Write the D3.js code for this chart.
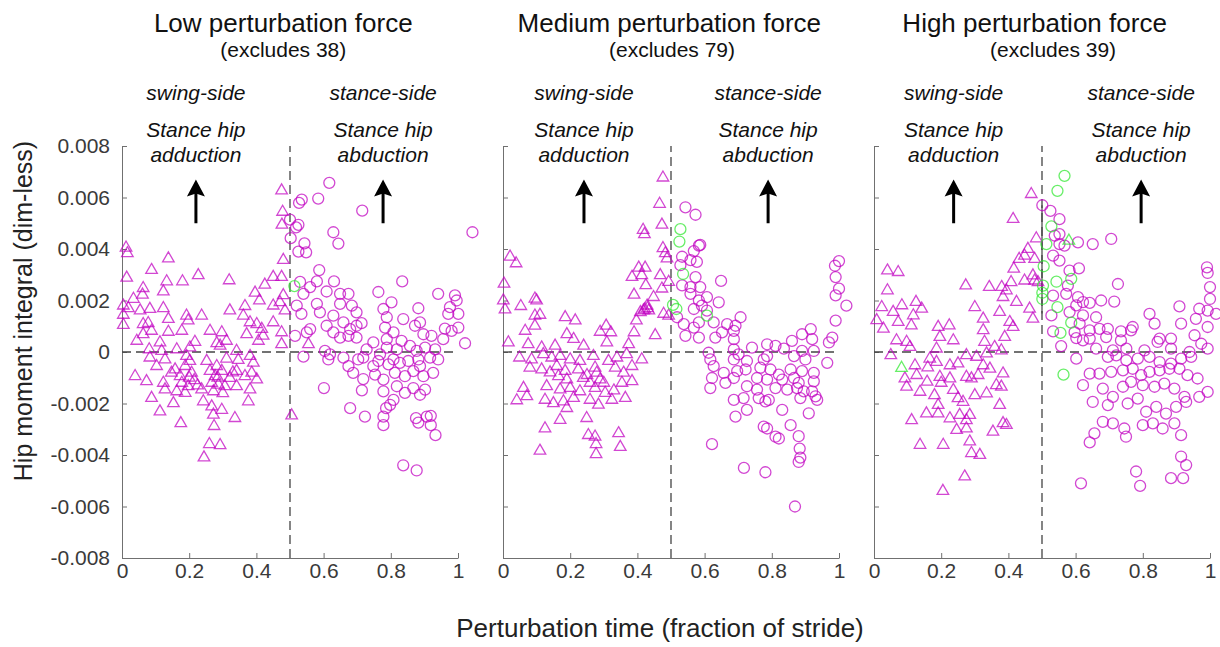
<!DOCTYPE html>
<html>
<head>
<meta charset="utf-8">
<script src="https://cdnjs.cloudflare.com/ajax/libs/d3/7.8.5/d3.min.js"></script>
<style>
  body { margin: 0; background: #fff; }
  text { font-family: "Liberation Sans", Arial, sans-serif; }
</style>
</head>
<body>
<script>
// ---- data (x = fraction of stride, y = hip moment integral) ----
const panelTitles = ["Low perturbation force", "Medium perturbation force", "High perturbation force"];
const excludes = ["(excludes 38)", "(excludes 79)", "(excludes 39)"];
const xTicks = [0, 0.2, 0.4, 0.6, 0.8, 1];
const yTicks = [-0.008, -0.006, -0.004, -0.002, 0, 0.002, 0.004, 0.006, 0.008];

// swing-side (triangles)
const lowTri = [[0.475,0.00627],[0.478,0.00544],[0.476,0.00494],[0.012,0.00405],[0.016,0.00383],[0.138,0.00363],[0.48,0.00357],[0.088,0.00318],[0.227,0.00298],[0.014,0.00288],[0.133,0.00274],[0.18,0.00274],[0.319,0.00278],[0.063,0.00248],[0.123,0.00235],[0.45,0.00291],[0.425,0.00261],[0.475,0.00291],[0.034,0.00206],[0.061,0.00222],[0.396,0.0023],[0.409,0.002],[0.004,0.0018],[0.019,0.0017],[0.054,0.00161],[0.083,0.00167],[0.123,0.0017],[0.004,0.00144],[0.138,0.00128],[0.192,0.00141],[0.237,0.00141],[0.321,0.00161],[0.366,0.00178],[0.361,0.00141],[0.381,0.00115],[0.45,0.0018],[0.47,0.00193],[0.48,0.0022],[0.485,0.00161],[0.004,0.00105],[0.063,0.00108],[0.078,0.00112],[0.197,0.00122],[0.416,0.00089],[0.401,0.00108],[0.45,0.00115],[0.063,0.00069],[0.088,0.00082],[0.138,0.00078],[0.178,0.00082],[0.262,0.00082],[0.297,0.00076],[0.371,0.00069],[0.42,0.00063],[0.475,0.00076],[0.044,0.00043],[0.113,0.00037],[0.217,0.00039],[0.282,0.00034],[0.311,0.00043],[0.406,0.00043],[0.475,0.0003],[0.081,0.0001],[0.118,0.00004],[0.163,0.0001],[0.202,0.00017],[0.292,0.00024],[0.341,0.00004],[0.083,-0.00022],[0.128,-0.00029],[0.192,-0.00016],[0.252,-0.00035],[0.311,-0.00026],[0.346,-0.00031],[0.381,-0.00016],[0.391,-0.00042],[0.103,-0.00055],[0.158,-0.00068],[0.188,-0.00055],[0.202,-0.00035],[0.282,-0.00055],[0.297,-0.00074],[0.039,-0.00094],[0.147,-0.00081],[0.173,-0.00094],[0.207,-0.00081],[0.262,-0.00074],[0.277,-0.00094],[0.321,-0.00101],[0.341,-0.00074],[0.366,-0.00094],[0.386,-0.00081],[0.401,-0.00107],[0.073,-0.00114],[0.123,-0.0012],[0.178,-0.0012],[0.197,-0.00133],[0.267,-0.0012],[0.287,-0.00127],[0.306,-0.00133],[0.341,-0.00133],[0.128,-0.00146],[0.163,-0.00153],[0.188,-0.00159],[0.237,-0.00146],[0.272,-0.00153],[0.381,-0.00146],[0.088,-0.00179],[0.153,-0.00199],[0.242,-0.00192],[0.267,-0.00212],[0.297,-0.00225],[0.376,-0.00192],[0.113,-0.00231],[0.272,-0.00244],[0.336,-0.00257],[0.175,-0.00277],[0.274,-0.00288],[0.505,-0.00247],[0.26,-0.00358],[0.292,-0.00362],[0.244,-0.0041],[0.555,0.0003],[0.2,-0.001],[0.215,-0.0011],[0.285,-0.001],[0.3,-0.0016],[0.33,-0.0008],[0.225,-0.0013]];
const medTri = [[0.476,0.00677],[0.466,0.00575],[0.473,0.00494],[0.417,0.00474],[0.421,0.00457],[0.476,0.00403],[0.483,0.00383],[0.021,0.0037],[0.039,0.00344],[0.488,0.00363],[0.404,0.00327],[0.423,0.00327],[0.384,0.00291],[0.413,0.00298],[0.468,0.00298],[0.003,0.00265],[0.493,0.00272],[0.425,0.00259],[0.473,0.00246],[0.39,0.00222],[0.001,0.002],[0.095,0.00207],[0.1,0.002],[0.448,0.00213],[0.053,0.00178],[0.006,0.00165],[0.429,0.0018],[0.434,0.00161],[0.418,0.00161],[0.409,0.00154],[0.095,0.00141],[0.11,0.00144],[0.185,0.00135],[0.215,0.00122],[0.397,0.00122],[0.478,0.00148],[0.493,0.00141],[0.066,0.00082],[0.095,0.00102],[0.19,0.00069],[0.21,0.0005],[0.307,0.00102],[0.321,0.00076],[0.289,0.00078],[0.39,0.00076],[0.453,0.00065],[0.016,0.00037],[0.075,0.0003],[0.115,0.00017],[0.155,0.00024],[0.24,0.00024],[0.309,0.00037],[0.374,0.0003],[0.049,-0.00022],[0.085,-0.00029],[0.12,-0.00009],[0.145,-0.00022],[0.17,-0.00016],[0.2,-0.00029],[0.229,-0.00035],[0.269,-0.00016],[0.314,-0.00035],[0.339,-0.00022],[0.368,-0.00009],[0.413,-0.00029],[0.08,-0.00061],[0.115,-0.00068],[0.16,-0.00055],[0.185,-0.00074],[0.224,-0.00068],[0.274,-0.00061],[0.279,-0.00081],[0.334,-0.00061],[0.359,-0.00081],[0.384,-0.00055],[0.165,-0.00094],[0.19,-0.00107],[0.239,-0.00101],[0.259,-0.0012],[0.289,-0.00107],[0.354,-0.0012],[0.384,-0.00114],[0.061,-0.0014],[0.13,-0.00133],[0.17,-0.00146],[0.2,-0.0014],[0.229,-0.00153],[0.274,-0.0014],[0.304,-0.00159],[0.071,-0.00172],[0.041,-0.00188],[0.125,-0.00186],[0.15,-0.00199],[0.18,-0.00192],[0.19,-0.00218],[0.21,-0.00179],[0.259,-0.00186],[0.284,-0.00205],[0.324,-0.00186],[0.364,-0.00179],[0.17,-0.00264],[0.249,-0.00257],[0.125,-0.00297],[0.254,-0.00323],[0.274,-0.00329],[0.344,-0.00316],[0.277,-0.00358],[0.349,-0.00369],[0.11,-0.00384],[0.277,-0.00397],[0.422,0.00165],[0.43,0.0017],[0.14,-0.0008],[0.25,-0.0009],[0.3,-0.0012],[0.33,-0.0015]];
const highTri = [[0.468,0.00613],[0.414,0.00516],[0.483,0.00441],[0.458,0.004],[0.432,0.00361],[0.448,0.00374],[0.478,0.00361],[0.04,0.00316],[0.072,0.0031],[0.416,0.00323],[0.473,0.00297],[0.478,0.00277],[0.488,0.00271],[0.04,0.00239],[0.273,0.00258],[0.343,0.00252],[0.38,0.00252],[0.394,0.00239],[0.408,0.00271],[0.448,0.00277],[0.023,0.00174],[0.083,0.00181],[0.125,0.00194],[0.142,0.00168],[0.3,0.00174],[0.384,0.00213],[0.424,0.00194],[0.057,0.00155],[0.374,0.00155],[0.463,0.00168],[0.473,0.00129],[0.008,0.00123],[0.028,0.0009],[0.072,0.00116],[0.117,0.00142],[0.111,0.00103],[0.191,0.00097],[0.224,0.00103],[0.325,0.00129],[0.404,0.00116],[0.414,0.00097],[0.067,0.00045],[0.097,0.00039],[0.196,0.00058],[0.236,0.00045],[0.325,0.00084],[0.329,0.00039],[0.389,0.00058],[0.379,0.00006],[0.05,-0.00013],[0.107,0.00019],[0.186,0.00013],[0.275,-0.00013],[0.305,-0.00019],[0.335,-0.00006],[0.359,0.00019],[0.122,-0.00052],[0.166,-0.00026],[0.186,-0.00039],[0.226,-0.00052],[0.25,-0.00045],[0.325,-0.00052],[0.345,-0.00065],[0.384,-0.00084],[0.092,-0.00103],[0.127,-0.0009],[0.158,-0.00116],[0.196,-0.00097],[0.226,-0.00103],[0.275,-0.00097],[0.29,-0.00103],[0.364,-0.00129],[0.379,-0.00135],[0.097,-0.00135],[0.137,-0.00155],[0.18,-0.00168],[0.236,-0.00148],[0.265,-0.00194],[0.3,-0.00168],[0.335,-0.00161],[0.374,-0.00206],[0.156,-0.00239],[0.191,-0.00206],[0.191,-0.00239],[0.226,-0.00258],[0.255,-0.00245],[0.275,-0.00265],[0.285,-0.00245],[0.112,-0.00265],[0.246,-0.00303],[0.275,-0.00297],[0.354,-0.0031],[0.384,-0.00277],[0.394,-0.00284],[0.137,-0.00361],[0.206,-0.00361],[0.285,-0.00348],[0.29,-0.00393],[0.315,-0.004],[0.27,-0.00484],[0.205,-0.0054],[0.2,-0.0012],[0.25,-0.0018],[0.31,-0.0009],[0.16,-0.0006]];

// stance-side (circles)
const lowCirc = [[0.617,0.00657],[0.584,0.00596],[0.535,0.00592],[0.527,0.00579],[0.715,0.00549],[0.5,0.00514],[0.525,0.00494],[0.518,0.00484],[0.629,0.00465],[1.043,0.00465],[0.502,0.00442],[0.543,0.00422],[0.644,0.00421],[0.525,0.0039],[0.548,0.00387],[0.587,0.00318],[0.53,0.00272],[0.58,0.00274],[0.631,0.00274],[0.834,0.00274],[0.56,0.00252],[0.54,0.00226],[0.609,0.00235],[0.649,0.00226],[0.674,0.00226],[0.763,0.00233],[0.941,0.00226],[0.991,0.0022],[0.996,0.002],[0.802,0.00193],[0.778,0.00167],[0.882,0.0017],[0.976,0.00174],[0.52,0.0018],[0.58,0.00187],[0.589,0.00154],[0.649,0.00187],[0.684,0.0018],[0.698,0.00154],[0.534,0.00148],[0.629,0.00141],[1.001,0.00148],[0.971,0.00148],[0.837,0.00128],[0.887,0.00115],[0.788,0.00135],[0.609,0.00102],[0.659,0.00115],[0.679,0.00089],[0.698,0.00102],[0.713,0.00112],[0.56,0.00089],[0.55,0.00076],[0.629,0.00076],[0.783,0.00095],[0.808,0.00076],[0.872,0.00102],[0.961,0.00091],[0.981,0.00082],[1.001,0.00095],[0.515,0.00063],[0.649,0.00056],[0.674,0.00063],[0.698,0.00056],[0.748,0.00037],[0.788,0.0005],[0.832,0.00043],[0.897,0.00069],[0.921,0.00063],[0.956,0.0005],[1.021,0.00034],[0.604,0.00004],[0.619,-0.00009],[0.614,-0.00029],[0.54,-0.00018],[0.728,0.0001],[0.768,-0.00009],[0.788,0.00017],[0.818,0.0001],[0.857,0.00024],[0.877,0.00004],[0.902,0.00017],[0.932,0.0001],[0.917,-0.00022],[0.659,-0.00022],[0.703,-0.00029],[0.674,-0.00055],[0.718,-0.00022],[0.748,-0.00055],[0.763,-0.00035],[0.793,-0.00048],[0.808,-0.00029],[0.827,-0.00042],[0.852,-0.00035],[0.882,-0.00029],[0.887,-0.00055],[0.941,-0.00029],[0.688,-0.00081],[0.718,-0.00105],[0.753,-0.00088],[0.778,-0.00107],[0.812,-0.00081],[0.842,-0.00094],[0.867,-0.00074],[0.897,-0.00094],[0.926,-0.00081],[0.601,-0.0014],[0.714,-0.00149],[0.778,-0.00153],[0.818,-0.00133],[0.842,-0.00159],[0.867,-0.0014],[0.887,-0.00166],[0.902,-0.00146],[0.808,-0.00186],[0.798,-0.00205],[0.786,-0.00218],[0.679,-0.00218],[0.723,-0.00251],[0.778,-0.00251],[0.778,-0.00284],[0.875,-0.00257],[0.882,-0.00274],[0.907,-0.00251],[0.919,-0.00248],[0.919,-0.00284],[0.933,-0.00323],[0.837,-0.0044],[0.877,-0.0046]];
const medCirc = [[0.543,0.00562],[0.573,0.00533],[0.587,0.00416],[0.583,0.00413],[0.568,0.00392],[0.533,0.0037],[0.558,0.00357],[0.577,0.0035],[0.528,0.00337],[1.0,0.00353],[0.988,0.00335],[0.573,0.00291],[0.99,0.00291],[0.649,0.00276],[0.533,0.00259],[0.558,0.00252],[0.587,0.00252],[1.0,0.00246],[0.558,0.00226],[0.607,0.00213],[0.99,0.0022],[0.583,0.002],[0.642,0.00193],[1.022,0.0018],[0.568,0.00167],[0.592,0.0018],[0.607,0.00161],[0.518,0.00135],[0.707,0.00135],[0.99,0.00122],[0.583,0.00115],[0.627,0.00115],[0.667,0.00108],[0.692,0.00102],[0.538,0.00108],[0.568,0.00095],[0.687,0.00082],[0.916,0.00089],[0.652,0.00076],[0.89,0.00069],[0.543,0.00063],[0.583,0.00056],[0.632,0.00056],[0.687,0.0005],[0.741,0.00017],[0.786,0.0003],[0.811,0.00024],[0.86,0.00043],[0.92,0.0005],[0.97,0.00037],[0.98,0.00056],[0.687,0.0001],[0.612,-0.00003],[0.836,0.00013],[0.89,0.00004],[0.925,0.00004],[0.701,-0.00009],[0.617,-0.00029],[0.687,-0.00029],[0.726,-0.00035],[0.776,-0.00029],[0.786,-0.00016],[0.866,-0.00016],[0.9,-0.00029],[0.965,-0.00042],[0.627,-0.00055],[0.657,-0.00081],[0.697,-0.00074],[0.722,-0.00068],[0.766,-0.00061],[0.796,-0.00068],[0.821,-0.00088],[0.856,-0.00068],[0.89,-0.00074],[0.925,-0.00081],[0.622,-0.00101],[0.687,-0.00101],[0.756,-0.00101],[0.786,-0.00107],[0.831,-0.00107],[0.866,-0.00101],[0.88,-0.0012],[0.925,-0.00114],[0.617,-0.0014],[0.662,-0.0012],[0.726,-0.00133],[0.756,-0.00146],[0.811,-0.0014],[0.846,-0.00146],[0.875,-0.0014],[0.895,-0.00153],[0.92,-0.00153],[0.716,-0.00179],[0.687,-0.00186],[0.761,-0.00179],[0.791,-0.00186],[0.885,-0.00179],[0.935,-0.00186],[0.93,-0.00172],[0.726,-0.00225],[0.781,-0.00192],[0.831,-0.00225],[0.91,-0.00238],[0.692,-0.00251],[0.856,-0.00284],[0.776,-0.0029],[0.786,-0.00297],[0.811,-0.00329],[0.821,-0.00336],[0.88,-0.00327],[0.883,-0.00375],[0.885,-0.0041],[0.88,-0.00427],[0.622,-0.00358],[0.717,-0.0045],[0.781,-0.00467],[0.869,-0.006]];
const highCirc = [[0.501,0.0057],[0.525,0.00548],[0.552,0.00516],[0.538,0.00452],[0.552,0.00458],[0.567,0.00413],[0.552,0.00419],[0.607,0.00426],[0.651,0.00419],[0.706,0.00439],[0.533,0.00374],[0.552,0.00355],[0.582,0.00316],[0.61,0.00325],[0.991,0.00329],[0.993,0.00307],[0.577,0.00258],[0.726,0.00264],[1.0,0.00252],[0.533,0.00219],[0.572,0.00226],[1.0,0.00206],[0.607,0.00213],[0.622,0.00194],[0.642,0.00191],[0.676,0.002],[0.715,0.00196],[0.582,0.00155],[0.602,0.00181],[0.968,0.00168],[0.993,0.00161],[0.909,0.00177],[0.82,0.00148],[1.018,0.00148],[0.528,0.00142],[0.622,0.00142],[0.661,0.00135],[0.958,0.00129],[0.612,0.0011],[0.835,0.0011],[0.914,0.0011],[0.993,0.00097],[0.533,0.0008],[0.597,0.00077],[0.642,0.00084],[0.671,0.0009],[0.696,0.0009],[0.735,0.0008],[0.765,0.00084],[0.77,0.00097],[0.602,0.00054],[0.622,0.00045],[0.642,0.00052],[0.691,0.00058],[0.735,0.00045],[0.85,0.00052],[0.884,0.00052],[0.954,0.00065],[0.974,0.00032],[0.557,0.00023],[0.661,0.00013],[0.711,0.00006],[0.751,0.00013],[0.805,0.00006],[0.844,0.00039],[0.884,0.00013],[0.939,0],[0.993,0.00013],[0.602,-0.00026],[0.696,-0.00019],[0.721,-0.00013],[0.751,-0.00032],[0.785,-0.00026],[0.82,-0.00019],[0.85,-0.00039],[0.884,-0.00045],[0.914,-0.00026],[0.944,-0.00019],[0.642,-0.00084],[0.671,-0.00084],[0.706,-0.00077],[0.741,-0.00071],[0.77,-0.00065],[0.795,-0.0009],[0.82,-0.00077],[0.85,-0.00071],[0.879,-0.00065],[0.909,-0.00065],[0.933,-0.0009],[0.963,-0.00103],[0.993,-0.00155],[0.622,-0.00129],[0.681,-0.00142],[0.711,-0.00174],[0.741,-0.00135],[0.765,-0.00116],[0.8,-0.00129],[0.835,-0.00135],[0.864,-0.00123],[0.894,-0.00142],[0.924,-0.00174],[0.929,-0.00194],[0.651,-0.00194],[0.696,-0.00206],[0.755,-0.002],[0.785,-0.00181],[0.81,-0.00232],[0.84,-0.00213],[0.869,-0.00239],[0.899,-0.00213],[0.968,-0.00174],[0.681,-0.00271],[0.711,-0.00277],[0.745,-0.00297],[0.75,-0.00329],[0.8,-0.00284],[0.83,-0.00277],[0.859,-0.00297],[0.894,-0.00277],[0.914,-0.00323],[0.656,-0.00316],[0.642,-0.00351],[0.914,-0.00406],[0.929,-0.00439],[0.78,-0.00464],[0.884,-0.0049],[0.616,-0.0051],[0.792,-0.0052],[0.92,-0.0049]];

// highlighted trials (green)
const lowCircGreen = [[0.513,0.00256]];
const medCircGreen = [[0.528,0.00477],[0.525,0.00429],[0.536,0.00303],[0.506,0.00183],[0.516,0.00167],[0.607,0.00141]];
const highCircGreen = [[0.567,0.00684],[0.546,0.00626],[0.528,0.00488],[0.513,0.00419],[0.505,0.00333],[0.543,0.00273],[0.587,0.00284],[0.503,0.00258],[0.501,0.0023],[0.501,0.00206],[0.546,0.00174],[0.587,0.00114],[0.555,0.00074],[0.564,-0.00088]];
const highTriGreen = [[0.58,0.00432],[0.082,-0.00062]];

// solid stretch of the x = 0.5 line in the high panel (y from, y to)
const highMidLine = [0.0015, 0.0057];

// ---- layout ----
const W = 1220, H = 647;
const panelLeft = [122, 503, 874];
const panelW = 336;
const plotTop = 146, plotBottom = 558;
const magenta = "#c000c0", green = "#2ee82e";

// per panel text/arrow x positions (data units)
const titleX = [0.48, 0.495, 0.478];
const subX = [0.48, 0.503, 0.533];
const swingX = [0.22, 0.241, 0.237];
const stanceX = [0.777, 0.789, 0.795];

const panels = [
  {tri: lowTri, circ: lowCirc, triG: [], circG: lowCircGreen, mid: null},
  {tri: medTri, circ: medCirc, triG: [], circG: medCircGreen, mid: null},
  {tri: highTri, circ: highCirc, triG: highTriGreen, circG: highCircGreen, mid: highMidLine}
];

const svg = d3.select("body").append("svg")
  .attr("width", W).attr("height", H);

const y = d3.scaleLinear().domain([-0.008, 0.008]).range([plotBottom, plotTop]);
const tri = d3.symbol().type(d3.symbolTriangle).size(58);

const yFmt = d => d === 0 ? "0" : d.toFixed(3);
const xFmt = d => (d === 0 || d === 1) ? String(d) : d.toFixed(1);

panels.forEach((p, i) => {
  const x = d3.scaleLinear().domain([0, 1]).range([panelLeft[i], panelLeft[i] + panelW]);
  const g = svg.append("g");

  // axes
  const ya = g.append("g")
    .attr("transform", `translate(${panelLeft[i]},0)`)
    .call(d3.axisLeft(y).tickValues(yTicks).tickSizeInner(-5).tickSizeOuter(0).tickPadding(12).tickFormat(i === 0 ? yFmt : ""));
  const xa = g.append("g")
    .attr("transform", `translate(0,${plotBottom})`)
    .call(d3.axisBottom(x).tickValues(xTicks).tickSizeInner(-5).tickSizeOuter(0).tickPadding(5).tickFormat(xFmt));
  [ya, xa].forEach(a => {
    a.select(".domain").attr("stroke", "#707070");
    a.selectAll(".tick line").attr("stroke", "#707070");
    a.selectAll("text").attr("font-size", 21).attr("fill", "#3a3a3a")
      .style("font-family", "'Liberation Sans', Arial, sans-serif");
  });

  // reference lines
  g.append("line")
    .attr("x1", x(0)).attr("x2", x(1)).attr("y1", y(0)).attr("y2", y(0))
    .attr("stroke", "#444").attr("stroke-width", 1.3).attr("stroke-dasharray", "9,5");
  g.append("line")
    .attr("x1", x(0.5)).attr("x2", x(0.5)).attr("y1", y(-0.008)).attr("y2", y(0.008))
    .attr("stroke", "#444").attr("stroke-width", 1.3).attr("stroke-dasharray", "9,5");
  if (p.mid) {
    g.append("line")
      .attr("x1", x(0.5)).attr("x2", x(0.5)).attr("y1", y(p.mid[0])).attr("y2", y(p.mid[1]))
      .attr("stroke", "#444").attr("stroke-width", 1.2);
  }

  // markers
  const drawTri = (data, col) => g.append("g").selectAll("path").data(data).join("path")
    .attr("d", tri).attr("transform", d => `translate(${x(d[0])},${y(d[1])})`)
    .attr("fill", "none").attr("stroke", col).attr("stroke-width", 1.3).attr("stroke-opacity", 0.72);
  const drawCirc = (data, col) => g.append("g").selectAll("circle").data(data).join("circle")
    .attr("cx", d => x(d[0])).attr("cy", d => y(d[1])).attr("r", 5.5)
    .attr("fill", "none").attr("stroke", col).attr("stroke-width", 1.3).attr("stroke-opacity", 0.72);
  drawTri(p.tri, magenta);
  drawCirc(p.circ, magenta);
  drawTri(p.triG, green);
  drawCirc(p.circG, green);

  // titles
  g.append("text").attr("x", x(titleX[i])).attr("y", 32).attr("text-anchor", "middle")
    .attr("font-size", 26).attr("fill", "#111").text(panelTitles[i]);
  g.append("text").attr("x", x(subX[i])).attr("y", 57).attr("text-anchor", "middle")
    .attr("font-size", 21).attr("fill", "#111").text(excludes[i]);

  // side annotations + arrows
  [[swingX[i], "swing-side", "adduction"], [stanceX[i], "stance-side", "abduction"]].forEach(([ax, side, word]) => {
    const cx = x(ax);
    const t = g.append("g").attr("font-size", 21).attr("font-style", "italic").attr("fill", "#111").attr("text-anchor", "middle");
    t.append("text").attr("x", cx).attr("y", 100).text(side);
    t.append("text").attr("x", cx).attr("y", 137).text("Stance hip");
    t.append("text").attr("x", cx).attr("y", 162).text(word);
    const yb = y(0.005), yt = y(0.0067);
    g.append("line").attr("x1", cx).attr("x2", cx).attr("y1", yb).attr("y2", yt + 12)
      .attr("stroke", "#000").attr("stroke-width", 3);
    g.append("path")
      .attr("d", `M${cx},${yt} L${cx - 9},${yt + 17} L${cx},${yt + 14} L${cx + 9},${yt + 17} Z`)
      .attr("fill", "#000");
  });
});

// axis titles
svg.append("text")
  .attr("transform", "translate(32,311) rotate(-90)")
  .attr("text-anchor", "middle").attr("font-size", 25).attr("fill", "#222")
  .text("Hip moment integral (dim-less)");
svg.append("text")
  .attr("x", 660).attr("y", 637).attr("text-anchor", "middle")
  .attr("font-size", 26).attr("fill", "#222")
  .text("Perturbation time (fraction of stride)");
</script>
</body>
</html>
